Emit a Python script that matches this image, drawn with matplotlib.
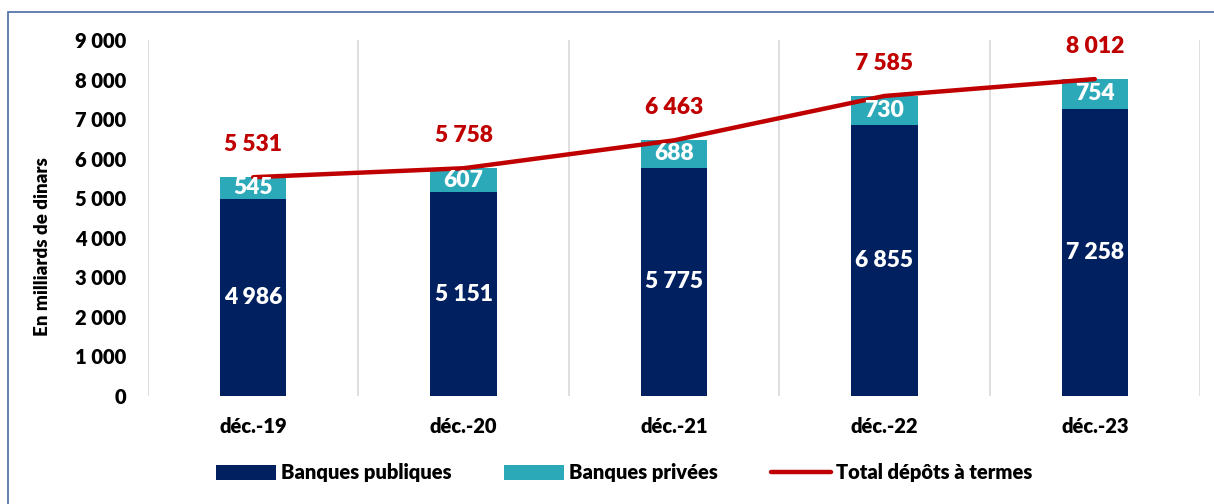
import numpy as np
import matplotlib
matplotlib.use("Agg")
import matplotlib.pyplot as plt
from matplotlib.patches import Rectangle

plt.rcParams.update({"font.family": ["Lato", "DejaVu Sans"], "font.weight": "bold"})

categories = ["déc.-19", "déc.-20", "déc.-21", "déc.-22", "déc.-23"]
publiques = [4986, 5151, 5775, 6855, 7258]
privees = [545, 607, 688, 730, 754]
total = [5531, 5758, 6463, 7585, 8012]

NAVY = "#002060"
TEAL = "#2CA9B8"
RED = "#C00000"


def fmt(v):
    return f"{v:,}".replace(",", " ")


fig = plt.figure(figsize=(12.14, 5.04), dpi=100)
ax = fig.add_axes([148 / 1214, 1 - 396 / 504, (1200 - 148) / 1214, (396 - 40) / 504])

x = np.arange(len(categories))
w = 0.315
b1 = ax.bar(x, publiques, width=w, color=NAVY, label="Banques publiques", zorder=2)
b2 = ax.bar(x, privees, width=w, bottom=publiques, color=TEAL, label="Banques privées", zorder=2)
ln, = ax.plot(x, total, color=RED, lw=3.2, solid_capstyle="round", label="Total dépôts à termes", zorder=3)

for i in range(len(x)):
    ax.text(x[i], publiques[i] / 2, fmt(publiques[i]), color="white", ha="center", va="center",
            fontsize=16.5, fontweight="heavy")
    ax.text(x[i], publiques[i] + privees[i] / 2, fmt(privees[i]), color="white", ha="center",
            va="center", fontsize=16.5, fontweight="heavy")
    ax.text(x[i], total[i] + 830, fmt(total[i]), color=RED, ha="center", va="center",
            fontsize=16.5, fontweight="heavy")

ax.set_xlim(-0.5, 4.5)
ax.set_ylim(0, 9000)
ax.set_yticks(np.arange(0, 9001, 1000))
ax.set_yticklabels([fmt(v) for v in range(0, 9001, 1000)], fontsize=14.5, fontweight="heavy")
ax.set_xticks(x)
ax.set_xticklabels(categories, fontsize=14.5, fontweight="heavy")
ax.tick_params(length=0)
ax.tick_params(axis="x", pad=15)
ax.tick_params(axis="y", pad=16)
for b in np.arange(-0.5, 5, 1):
    ax.axvline(b, color="#D9D9D9", lw=1.2, zorder=1)
for s in ax.spines.values():
    s.set_visible(False)
ax.set_ylabel("En milliards de dinars", fontsize=13.5, fontweight="heavy")
ax.yaxis.set_label_coords(-0.092, 0.42)

fig.legend([b1, b2, ln], ["Banques publiques", "Banques privées", "Total dépôts à termes"],
           loc="center", bbox_to_anchor=(624 / 1214, 1 - 473 / 504), ncol=3, frameon=False,
           prop={"size": 14.5, "weight": "heavy"}, handlelength=3.0, handleheight=0.75,
           columnspacing=2.6, handletextpad=0.25)

fig.patches.append(Rectangle((8 / 1214, -0.1), 1.2, 1 - 12 / 504 + 0.1, transform=fig.transFigure,
                             fill=False, edgecolor="#4A6AA5", lw=1.2))

fig.savefig("out.png", dpi=100, facecolor="white")
